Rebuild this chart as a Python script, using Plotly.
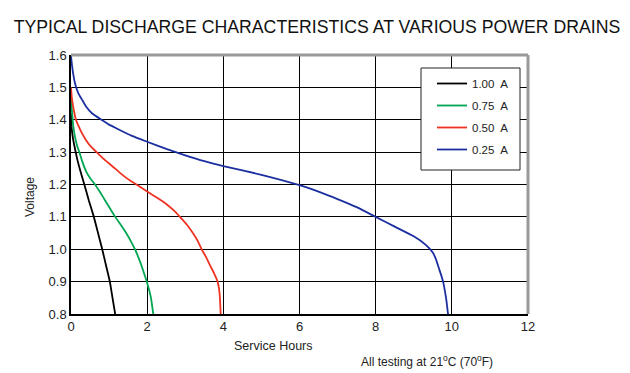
import plotly.graph_objects as go

# Discharge curves: service hours vs voltage
black_h = [0, 0.01, 0.03, 0.07, 0.16, 0.25, 0.35, 0.47, 0.6, 0.71, 0.82, 0.92, 1.02, 1.09, 1.16]
black_v = [1.42, 1.39, 1.36, 1.33, 1.28, 1.24, 1.20, 1.15, 1.10, 1.05, 1.00, 0.95, 0.90, 0.85, 0.80]

green_h = [0, 0.01, 0.03, 0.06, 0.1, 0.16, 0.22, 0.3, 0.4, 0.5, 0.63, 0.77, 0.9, 1.03, 1.16, 1.31, 1.45, 1.57, 1.68, 1.77, 1.85, 1.92, 1.99, 2.05, 2.1, 2.16]
green_v = [1.48, 1.45, 1.42, 1.38, 1.35, 1.32, 1.30, 1.27, 1.24, 1.22, 1.20, 1.175, 1.15, 1.125, 1.10, 1.075, 1.05, 1.025, 1.00, 0.975, 0.95, 0.925, 0.90, 0.875, 0.85, 0.80]

red_h = [0, 0.02, 0.05, 0.09, 0.13, 0.2, 0.28, 0.38, 0.5, 0.67, 0.85, 1.0, 1.2, 1.4, 1.58, 1.72, 2.0, 2.25, 2.5, 2.7, 2.86, 3.05, 3.2, 3.33, 3.43, 3.55, 3.65, 3.76, 3.85, 3.89, 3.91, 3.93]
red_v = [1.50, 1.47, 1.445, 1.42, 1.40, 1.38, 1.36, 1.34, 1.32, 1.30, 1.28, 1.265, 1.245, 1.225, 1.21, 1.20, 1.178, 1.16, 1.14, 1.12, 1.10, 1.075, 1.05, 1.025, 1.00, 0.975, 0.95, 0.925, 0.90, 0.875, 0.85, 0.80]

blue_h = [0, 0.01, 0.03, 0.06, 0.1, 0.15, 0.2, 0.3, 0.4, 0.55, 0.8, 1.0, 1.2, 1.6, 2.0, 2.5, 3.0, 3.5, 4.0, 5.0, 6.0, 6.5, 7.0, 7.5, 8.0, 8.5, 9.0, 9.3, 9.5, 9.58, 9.65, 9.72, 9.77, 9.82, 9.86, 9.9]
blue_v = [1.60, 1.585, 1.565, 1.54, 1.515, 1.495, 1.48, 1.46, 1.44, 1.42, 1.40, 1.385, 1.373, 1.35, 1.332, 1.31, 1.29, 1.272, 1.257, 1.23, 1.198, 1.178, 1.155, 1.13, 1.10, 1.07, 1.04, 1.015, 0.99, 0.97, 0.945, 0.92, 0.90, 0.87, 0.84, 0.80]

series_names = ["1.00  A", "0.75  A", "0.50  A", "0.25  A"]
series_colors = ["#000000", "#00a651", "#ee3322", "#1c2fa0"]
series_data = [(black_h, black_v), (green_h, green_v), (red_h, red_v), (blue_h, blue_v)]

x_ticks = [0, 2, 4, 6, 8, 10, 12]
y_ticks = [0.8, 0.9, 1.0, 1.1, 1.2, 1.3, 1.4, 1.5, 1.6]

fig = go.Figure()
for i, (name, color, (hx, vy)) in enumerate(zip(series_names, series_colors, series_data)):
    fig.add_trace(go.Scatter(
        x=hx, y=vy, mode="lines", name=name, legendgroup=f"g{i}",
        line=dict(color=color, width=1.8, shape="spline", smoothing=0.4),
    ))

font_family = "Liberation Sans, Arial, sans-serif"

# the page body has an 8px margin, so the figure is offset by (8, 8)
W, H = 622, 365
L, R, T, B = 63, 102, 47, 59
PW, PH = W - L - R, H - T - B


def px_x(ax):  # absolute page x -> paper coordinate
    return (ax - 8 - L) / PW


def px_y(ay):  # absolute page y -> paper coordinate
    return (H - B - (ay - 8)) / PH


fig.update_layout(
    width=W, height=H,
    margin=dict(l=L, r=R, t=T, b=B),
    paper_bgcolor="white", plot_bgcolor="white",
    font=dict(family=font_family, color="#111111", size=12),
    title=dict(text="TYPICAL DISCHARGE CHARACTERISTICS AT VARIOUS POWER DRAINS",
               x=(317 - 8) / W, xanchor="center", y=1 - (27 - 8) / H, yanchor="middle",
               font=dict(size=17.7, family=font_family, color="#111111")),
    showlegend=True,
    legend=dict(x=px_x(432), y=px_y(69), xanchor="left", yanchor="top",
                borderwidth=0, bgcolor="rgba(0,0,0,0)",
                font=dict(size=11.5, family=font_family, color="#222222"),
                tracegroupgap=3, itemwidth=30),
    xaxis=dict(range=[0, 12], tickvals=x_ticks, showgrid=True, gridcolor="#000000", gridwidth=1,
               showline=True, linecolor="#000000", linewidth=1.5, zeroline=False,
               ticks="", tickfont=dict(size=13, color="#222222")),
    yaxis=dict(range=[0.8, 1.6], tickvals=y_ticks, tickformat=".1f", showgrid=True,
               gridcolor="#000000", gridwidth=1,
               showline=True, linecolor="#000000", linewidth=1.5, zeroline=False,
               ticks="", tickfont=dict(size=13, color="#222222")),
    shapes=[
        dict(type="line", xref="paper", yref="paper", x0=0, x1=1, y0=1, y1=1,
             line=dict(color="#999999", width=3)),
        dict(type="line", xref="paper", yref="paper", x0=1, x1=1, y0=0, y1=1,
             line=dict(color="#999999", width=3)),
        dict(type="rect", xref="paper", yref="paper", layer="above",
             x0=px_x(421), x1=px_x(520), y0=px_y(170), y1=px_y(68),
             fillcolor="white", line=dict(color="#222222", width=1)),
    ],
    annotations=[
        dict(text="Voltage", xref="paper", yref="paper", x=px_x(30), y=px_y(197),
             xanchor="center", yanchor="middle",
             showarrow=False, textangle=-90, font=dict(size=12, color="#222222")),
        dict(text="Service Hours", xref="paper", yref="paper", x=px_x(273), y=px_y(346),
             xanchor="center", yanchor="middle",
             showarrow=False, font=dict(size=12.5, color="#222222")),
        dict(text="All testing at 21<sup>o</sup>C (70<sup>o</sup>F)", xref="paper", yref="paper",
             x=px_x(359), y=px_y(361), xanchor="left", yanchor="middle", showarrow=False,
             font=dict(size=12, color="#222222")),
    ],
)

fig.write_html("out.html")
